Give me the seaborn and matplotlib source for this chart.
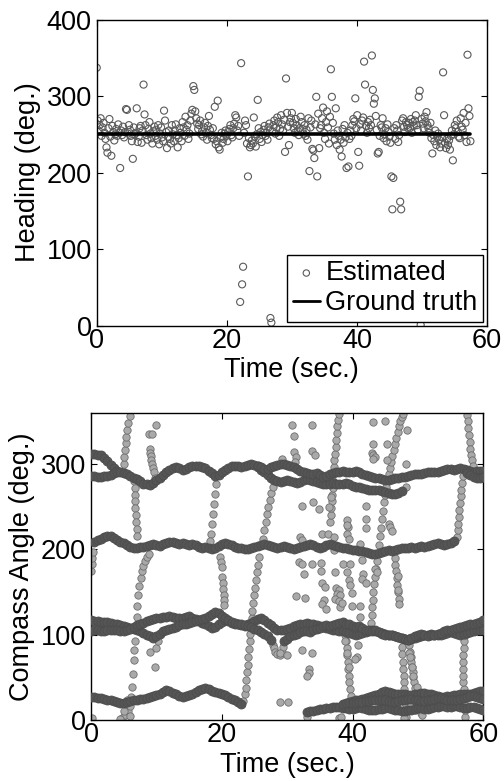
import numpy as np
import pandas as pd
import matplotlib
matplotlib.use("Agg")
import matplotlib.pyplot as plt
import seaborn as sns

# ---------------- DATA: top panel (heading estimates) ----------------
sample_interval = 0.15  # seconds between heading estimates
est_heading = [
    337, 268, 255, 262, 271, 248, 259, 265, 252, 244, 233, 226, 258, 270, 247, 222, 261, 253, 242, 250,
    257, 248, 263, 252, 206, 255, 249, 260, 246, 253, 283, 282, 251, 262, 256, 248, 241, 218, 259, 250,
    252, 284, 240, 247, 258, 261, 239, 255, 315, 276, 262, 249, 243, 257, 266, 251, 245, 238, 254, 260,
    248, 256, 243, 262, 237, 251, 259, 246, 241, 281, 268, 253, 232, 247, 255, 244, 238, 262, 250, 241,
    255, 263, 249, 233, 245, 258, 252, 241, 266, 259, 248, 273, 256, 262, 244, 251, 268, 277, 282, 313,
    308, 280, 271, 264, 257, 262, 268, 250, 254, 247, 259, 265, 252, 243, 261, 274, 256, 249, 245, 258,
    244, 286, 237, 241, 294, 233, 230, 246, 252, 239, 244, 251, 255, 248, 241, 253, 257, 262, 249, 246,
    258, 264, 275, 272, 255, 261, 248, 31, 343, 54, 77, 252, 268, 262, 238, 195, 245, 233, 236, 242,
    238, 272, 247, 234, 250, 295, 258, 244, 253, 240, 249, 256, 261, 248, 252, 243, 259, 264, 10, 4,
    254, 262, 268, 251, 259, 272, 266, 248, 257, 275, 263, 255, 269, 227, 323, 278, 260, 236, 266, 271,
    278, 265, 258, 252, 270, 262, 255, 249, 258, 273, 266, 257, 251, 262, 248, 256, 243, 271, 202, 259,
    268, 231, 229, 219, 263, 299, 195, 277, 232, 258, 262, 271, 285, 252, 244, 266, 280, 259, 238, 273,
    335, 299, 265, 251, 243, 284, 236, 255, 248, 230, 243, 221, 257, 239, 262, 246, 206, 252, 208, 244,
    255, 248, 262, 270, 267, 297, 258, 275, 227, 209, 263, 255, 268, 272, 345, 315, 261, 252, 266, 258,
    269, 262, 353, 308, 290, 297, 274, 256, 225, 227, 248, 262, 259, 271, 245, 250, 258, 241, 263, 253,
    247, 239, 195, 152, 193, 258, 244, 262, 255, 240, 249, 162, 152, 268, 271, 260, 253, 266, 262, 258,
    265, 258, 270, 252, 266, 261, 268, 275, 262, 256, 299, 307, 1, 270, 264, 258, 273, 267, 279, 262,
    258, 252, 265, 245, 225, 249, 241, 255, 236, 247, 251, 243, 233, 238, 246, 331, 275, 239, 232, 244,
    236, 242, 230, 248, 255, 216, 250, 262, 258, 268, 253, 247, 245, 271, 260, 256, 278, 249, 265, 240,
    354, 284, 274, 241,
]
gt_time = [0, 57.4]
gt_heading = [250, 250]

# ---------------- DATA: bottom panel (compass angle tracks) ----------------
track_step = 0.5  # seconds between samples on the dense tracks
band_a_start_t0 = 0.0
band_a_start = [312, 312, 311, 310, 307, 303, 299, 295, 292]
band_a_t0 = 0.0
band_a = [286, 286, 285, 285, 286, 286, 287, 289, 290, 290,
          289, 288, 286, 284, 282, 280, 277, 276, 275, 278,
          281, 283, 287, 290, 293, 295, 296, 295, 293, 294,
          296, 298, 297, 298, 296, 295, 292, 289, 286, 287,
          290, 293, 295, 297, 298, 297, 296, 297, 299, 300,
          299, 297]
band_a_lo_t0 = 25.5
band_a_lo = [296, 293, 290, 287, 284, 281, 280, 279, 280, 281,
             280, 279, 278, 279, 281, 282, 281, 280, 279, 278,
             277, 276, 277, 278, 277, 276, 277, 278, 276, 274,
             273, 273, 272, 271, 270, 269, 270, 269, 268, 267,
             266, 265, 265, 266, 268]
band_a_hi_t0 = 25.5
band_a_hi = [298, 296, 294, 294, 296, 298, 299, 300, 300, 299,
             298, 296, 294, 292, 290, 289, 288, 288, 289, 287,
             285, 286, 288, 289, 290, 291, 292, 291, 290, 291,
             292, 290, 288, 287, 286, 285, 284, 283, 282, 281,
             281, 282, 283, 284, 285, 285, 286, 287, 288, 288,
             288, 289, 290, 290, 291, 290, 292, 293, 294, 294,
             293, 294, 295, 294, 293, 292, 291, 292, 292, 292]
band_a_end_t0 = 57.5
band_a_end = [289, 287, 285, 284, 284, 285]
band_b_t0 = 0.5
band_b = [208, 211, 212, 214, 215, 215, 213, 211, 209, 207,
          205, 203, 202, 202, 203, 203, 204, 205, 206, 205,
          204, 206, 207, 208, 208, 207, 206, 207, 206, 205,
          206, 205, 203, 202, 203, 202, 200, 201, 204, 206,
          207, 206, 205, 203, 202, 201, 200, 200, 201, 203,
          204, 205, 206, 205, 204, 203, 202, 203, 204, 203,
          201, 200, 201, 203, 204, 205, 206, 205, 203, 202,
          203, 205, 206, 205, 204, 203, 202, 201, 200, 199,
          199, 198, 198, 197, 196, 195, 195, 196, 197, 198,
          199, 198, 199, 200, 201, 202, 202, 203, 202, 203,
          204, 203, 204, 205, 206, 207, 206, 205, 206, 207,
          210]
band_c_up_t0 = 0.0
band_c_up = [117, 116, 116, 115, 115, 115, 114, 113, 112, 111,
             110, 109, 108, 107, 106, 104, 102, 100, 98]
band_c_lo_t0 = 0.0
band_c_lo = [104, 105, 105, 104, 104, 105, 106, 106, 105, 104,
             104, 105, 107, 109, 111, 113, 114, 116, 117, 118,
             119, 120, 121, 121, 122, 121, 120, 119, 120, 121,
             122, 120, 118, 116, 114, 112, 110, 108, 109, 112,
             115, 117, 116, 114, 113, 112, 111, 110, 112, 114,
             116, 118, 119, 117, 114, 111, 108, 106, 105, 106,
             107, 108, 110, 111, 112, 113, 114, 113, 112, 111,
             110, 109, 108, 107, 106, 105, 104, 104, 103, 102,
             101, 100, 101, 102, 103, 104, 105, 104, 103, 102,
             101, 100, 99, 98, 97, 96, 95, 94, 95, 96,
             97, 98, 99, 100, 101, 100, 99, 100, 101, 102,
             103, 102, 101, 100, 101, 102, 103, 104, 105, 106,
             106]
band_c_a_t0 = 9.5
band_c_a = [96, 98, 101, 104, 106, 107, 108, 109, 111, 112,
            113, 114, 115, 116, 117, 118, 120, 122, 124, 126,
            125, 122, 119, 117, 115, 114, 113, 112, 111, 110,
            109, 107, 105, 103, 101, 98, 94]
band_c_b_t0 = 29.5
band_c_b = [92, 95, 98, 100, 101, 103, 104, 104, 103, 105,
            107, 108, 110, 111, 110, 111, 113, 114, 115, 113,
            112, 110, 109, 110, 108, 106, 105, 104, 105, 103,
            101, 100, 99, 100, 98, 97, 96, 95, 94, 96,
            98, 100, 101, 99, 98, 99, 100, 101, 102, 104,
            105, 106, 107, 108, 109, 110, 111, 112, 113, 114,
            115, 117]
band_d_t0 = 0.0
band_d = [27, 27, 26, 26, 25, 24, 23, 22, 21, 20,
          20, 21, 22, 23, 24, 25, 25, 26, 27, 28,
          29, 31, 33, 35, 34, 32, 30, 28, 27, 28,
          29, 31, 33, 35, 36, 37, 36, 34, 33, 32,
          31, 29, 27, 25, 23, 21, 19]
band_e1_t0 = 33.0
band_e1 = [9, 10, 11, 12, 13, 13, 14, 14, 15, 15, 15,
           14, 14, 13, 13, 14, 15, 14, 13, 12, 12,
           12, 13, 13, 14, 14, 13, 12, 12, 11, 11,
           12, 12, 13, 14, 14, 13, 13, 14, 15, 15,
           16, 16, 15, 15, 16, 16, 15, 14, 14, 15,
           15, 14, 13, 12]
band_e2_t0 = 38.5
band_e2 = [19, 20, 21, 22, 23, 24, 25, 26, 27, 28, 29, 31,
           33, 34, 33, 32, 31, 31, 30, 30, 29, 29, 30, 31,
           32, 32, 31, 30, 29, 28, 27, 27, 28, 28, 29, 29,
           30, 30, 31, 31, 32, 33, 34, 34]
band_e3_t0 = 40.0
band_e3 = [20, 20, 21, 21, 22, 22, 23, 23, 24, 24,
           23, 22, 21, 21, 22, 23, 24, 25, 25, 24,
           23, 22, 22, 23, 24, 25, 26, 26, 25, 24,
           23, 23, 24, 25, 26, 27, 28, 28, 27, 26, 25]

# transition / scattered compass readings (time s, angle deg)
trans_start = [(0.05, 175), (0.1, 183), (0.15, 190), (0.25, 197)]
trans_wrap_5s = [(4.9, 292), (5.0, 300), (5.1, 308), (5.2, 316), (5.3, 324), (5.4, 332),
                 (5.55, 340), (5.7, 348), (5.9, 356)]
trans_rise_6s = [(4.7, 2), (5.2, 6), (5.6, 10), (5.97, 16), (6.1, 27), (6.2, 39), (6.35, 54),
                 (6.5, 70), (6.6, 82), (6.73, 93), (6.85, 107), (6.98, 121), (7.1, 134),
                 (7.24, 146), (7.4, 157), (7.6, 166), (7.8, 174), (8.0, 180), (8.25, 186),
                 (8.5, 191), (8.8, 195)]
trans_drop_7s = [(6.6, 280), (6.65, 272), (6.7, 264), (6.75, 256), (6.8, 248), (6.85, 240),
                 (6.9, 232), (7.0, 224), (7.1, 216)]
trans_9s = [(8.8, 335), (9.0, 318), (9.05, 313), (9.1, 309), (9.2, 305), (9.3, 300),
            (9.45, 295), (9.6, 290), (9.8, 284)]
trans_19s = [(19.1, 276), (18.95, 265), (18.8, 253), (18.6, 241), (18.45, 230), (18.3, 218),
             (18.2, 210), (19.7, 191), (19.85, 185), (20.0, 179), (20.1, 167), (20.2, 160),
             (20.25, 154), (20.3, 147), (20.35, 141), (20.4, 135)]
trans_24s = [(23.3, 22), (23.5, 30), (23.65, 38), (23.75, 47), (23.85, 56), (23.95, 65),
             (24.05, 74), (24.15, 83), (24.25, 92), (24.35, 101), (24.45, 110), (24.55, 119),
             (24.65, 128), (24.75, 137), (24.9, 146), (25.05, 155), (25.2, 164), (25.35, 173),
             (25.5, 182), (25.7, 191), (26.3, 212), (26.5, 222), (26.7, 232), (26.9, 241),
             (27.1, 250), (27.3, 258), (27.6, 266), (27.9, 273)]
trans_dip_28s = [(27.8, 88), (28.0, 84), (28.2, 80), (28.5, 77), (28.9, 76), (29.2, 80), (29.4, 86)]
trans_37s = [(36.6, 232), (36.7, 240), (36.75, 248), (36.8, 256), (36.85, 264), (36.95, 272),
             (37.0, 280), (37.05, 288), (37.1, 296), (37.2, 304), (37.3, 312), (37.4, 320),
             (37.5, 328), (37.55, 336), (37.65, 344), (37.75, 352), (37.85, 358)]
trans_39s = [(38.8, 108), (38.9, 100), (39.0, 92), (39.1, 84), (39.2, 76), (39.3, 68),
             (39.35, 60), (39.45, 52), (39.5, 44), (39.6, 36), (39.7, 28), (39.8, 22)]
trans_44s = [(42.7, 105), (42.8, 114), (42.9, 123), (43.0, 132), (43.1, 141), (43.2, 150),
             (43.3, 159), (43.4, 168), (43.55, 177), (43.7, 186), (43.85, 195), (44.0, 205),
             (44.15, 215), (44.3, 225), (44.45, 235), (44.6, 245), (44.75, 255), (44.9, 264),
             (45.1, 273), (45.3, 281), (45.5, 288), (45.7, 295), (45.9, 302), (46.1, 309),
             (46.3, 316), (46.5, 323), (46.7, 330), (46.9, 337), (47.1, 344), (47.3, 350),
             (47.5, 355), (47.7, 359)]
trans_46s = [(46.3, 198), (46.45, 190), (46.55, 182), (46.65, 174), (46.75, 166), (46.85, 158),
             (46.95, 150), (47.05, 142), (47.1, 136)]
trans_48s = [(47.4, 95), (47.5, 86), (47.6, 77), (47.7, 68), (47.75, 60), (47.8, 52),
             (47.85, 44), (47.9, 36), (47.95, 28), (48.0, 20), (48.1, 12), (48.2, 4)]
trans_49s = [(48.6, 96), (48.7, 88), (48.8, 80), (48.9, 74), (49.0, 68), (49.1, 62),
             (49.2, 56), (49.3, 50), (49.45, 44), (49.6, 38), (49.75, 32), (49.9, 26),
             (50.1, 20), (50.3, 14), (50.5, 8)]
trans_56s = [(55.9, 214), (56.05, 222), (56.15, 230), (56.25, 238), (56.35, 246), (56.45, 254),
             (56.55, 262), (56.65, 270), (56.75, 278), (56.85, 286)]
trans_58s = [(57.5, 357), (57.6, 350), (57.7, 342), (57.8, 334), (57.9, 326), (58.0, 318),
             (58.1, 311), (58.2, 304), (58.35, 298)]
trans_57s_low = [(57.2, 4), (57.15, 12), (57.1, 20), (57.05, 28), (57.0, 36), (56.95, 44),
                 (56.9, 52), (56.9, 60), (56.9, 68), (56.95, 76), (57.0, 84), (57.1, 92),
                 (57.25, 99)]
scattered = [
    (29.2, 306), (30.8, 345), (31.1, 333), (31.1, 314), (31.4, 308), (31.2, 302), (32.2, 251),
    (33.8, 345), (33.8, 315), (34.2, 311), (34.0, 255), (34.8, 247), (35.3, 218), (36.2, 218),
    (36.4, 249), (36.7, 261), (37.1, 214), (39.1, 234), (39.3, 226), (39.1, 218), (39.4, 212),
    (39.2, 229), (42.1, 251), (42.0, 236), (42.0, 225), (43.2, 349), (45.0, 350), (43.2, 323),
    (43.0, 313), (43.2, 310), (43.4, 308), (43.1, 306), (45.2, 323), (45.2, 304), (48.3, 340),
    (48.2, 300), (48.1, 273),
    (32.0, 214), (32.3, 211), (31.8, 185), (32.2, 183), (33.8, 183), (35.2, 184), (32.5, 171),
    (35.2, 175), (35.4, 161), (35.8, 156), (31.3, 145), (32.7, 143), (35.6, 140), (35.3, 136),
    (35.9, 130), (37.1, 199), (37.3, 173), (37.5, 155), (37.9, 152), (37.6, 148), (38.1, 146),
    (37.3, 142), (37.9, 139), (38.1, 132), (38.4, 137), (38.6, 183), (39.6, 183), (39.1, 173),
    (39.4, 164), (39.6, 158), (39.9, 149), (39.9, 134), (41.2, 134), (41.2, 121), (41.4, 187),
    (41.6, 171), (41.5, 165), (42.0, 160), (41.2, 206), (43.4, 177), (43.7, 173), (47.0, 169),
    (47.0, 152), (45.5, 230), (45.8, 226), (46.1, 221),
    (40.9, 88), (40.7, 74), (40.4, 72), (38.9, 93), (39.1, 78), (39.4, 62), (33.3, 60),
    (33.3, 55), (33.0, 51), (33.8, 78), (32.2, 82), (32.5, 105), (28.9, 78), (30.0, 76),
    (28.9, 21), (30.1, 21), (48.6, 78), (48.8, 74), (49.1, 62), (49.3, 51), (48.8, 20),
    (49.6, 12), (49.8, 39), (50.6, 6),
    (9.0, 80), (9.8, 62), (10.0, 84), (10.3, 93), (0.1, 2), (4.4, 1), (4.8, 20), (5.0, 10),
    (5.5, 24), (6.0, 5), (9.3, 335), (9.9, 345), (37.9, 2), (33.0, 4), (38.3, 4), (47.9, 2),
]

# ---------------- build tables ----------------
est_time = np.arange(len(est_heading)) * sample_interval
top_df = pd.DataFrame({"time": est_time, "heading": est_heading})
gt_df = pd.DataFrame({"time": gt_time, "heading": gt_heading})

dense_tracks = [
    (band_a_start_t0, band_a_start), (band_a_t0, band_a), (band_a_lo_t0, band_a_lo),
    (band_a_hi_t0, band_a_hi), (band_a_end_t0, band_a_end), (band_b_t0, band_b),
    (band_c_up_t0, band_c_up), (band_c_lo_t0, band_c_lo), (band_c_a_t0, band_c_a),
    (band_c_b_t0, band_c_b), (band_d_t0, band_d), (band_e1_t0, band_e1),
    (band_e2_t0, band_e2), (band_e3_t0, band_e3),
]
rows = []
for t0, vals in dense_tracks:
    for i, v in enumerate(vals):
        rows.append((t0 + i * track_step, v))
dense_df = pd.DataFrame(rows, columns=["time", "angle"])

light_sets = [trans_start, trans_wrap_5s, trans_rise_6s, trans_drop_7s, trans_9s, trans_19s,
              trans_24s, trans_dip_28s, trans_37s, trans_39s, trans_44s, trans_46s, trans_48s,
              trans_49s, trans_56s, trans_58s, trans_57s_low, scattered]
light_df = pd.DataFrame([p for s in light_sets for p in s], columns=["time", "angle"])

# ---------------- style ----------------
sns.set_style("ticks")
plt.rcParams["font.family"] = ["Liberation Sans", "DejaVu Sans"]
plt.rcParams.update({
    "xtick.direction": "in", "ytick.direction": "in",
    "xtick.top": True, "ytick.right": True,
    "xtick.major.size": 4.5, "ytick.major.size": 4.5,
    "xtick.major.width": 0.8, "ytick.major.width": 0.8,
    "axes.linewidth": 1.0, "axes.edgecolor": "black",
    "xtick.color": "black", "ytick.color": "black",
    "xtick.labelcolor": "black", "ytick.labelcolor": "black",
    "text.color": "black", "axes.labelcolor": "black",
})
FS = 19.5

fig = plt.figure(figsize=(5.04, 7.81), dpi=100)
ax1 = fig.add_axes([0.1919, 0.583, 0.7744, 0.392])
ax2 = fig.add_axes([0.1806, 0.0781, 0.7784, 0.3935])

# top panel
sns.scatterplot(data=top_df, x="time", y="heading", ax=ax1, marker="o", s=26,
                facecolors="none", edgecolor="#5a5a5a", linewidth=0.8, label="Estimated")
sns.lineplot(data=gt_df, x="time", y="heading", ax=ax1, color="black", linewidth=2.6,
             label="Ground truth")
ax1.set_xlim(0, 60)
ax1.set_ylim(0, 400)
ax1.set_xticks([0, 20, 40, 60])
ax1.set_yticks([0, 100, 200, 300, 400])
ax1.set_xlabel("Time (sec.)", fontsize=FS, labelpad=2.5)
ax1.set_ylabel("Heading (deg.)", fontsize=FS, labelpad=4)
ax1.tick_params(axis="x", labelsize=FS, pad=1.5)
ax1.tick_params(axis="y", labelsize=FS, pad=3.5)
leg = ax1.legend(loc="lower right", fontsize=FS, frameon=True, fancybox=False,
                 edgecolor="black", framealpha=1, borderpad=0.2, handlelength=1.0,
                 handletextpad=0.2, labelspacing=0.15, borderaxespad=0.15, markerscale=0.9)
leg.get_frame().set_linewidth(1.0)
for ln in leg.get_lines():
    ln.set_linewidth(2.0)

# bottom panel
sns.scatterplot(data=light_df, x="time", y="angle", ax=ax2, marker="o", s=28,
                color="#a9a9a9", edgecolor="#6e6e6e", linewidth=0.6, legend=False, zorder=2)
sns.scatterplot(data=dense_df, x="time", y="angle", ax=ax2, marker="o", s=42,
                color="#555555", edgecolor="#4d4d4d", linewidth=0.6, legend=False, zorder=3)
ax2.set_xlim(0, 60)
ax2.set_ylim(0, 360)
ax2.set_xticks([0, 20, 40, 60])
ax2.set_yticks([0, 100, 200, 300])
ax2.set_xlabel("Time (sec.)", fontsize=FS, labelpad=2.5)
ax2.set_ylabel("Compass Angle (deg.)", fontsize=FS, labelpad=4)
ax2.tick_params(axis="x", labelsize=FS, pad=1.5)
ax2.tick_params(axis="y", labelsize=FS, pad=3.5)

for ax in (ax1, ax2):
    for sp in ax.spines.values():
        sp.set_visible(True)
        sp.set_color("black")

fig.savefig("out.png", dpi=100)
